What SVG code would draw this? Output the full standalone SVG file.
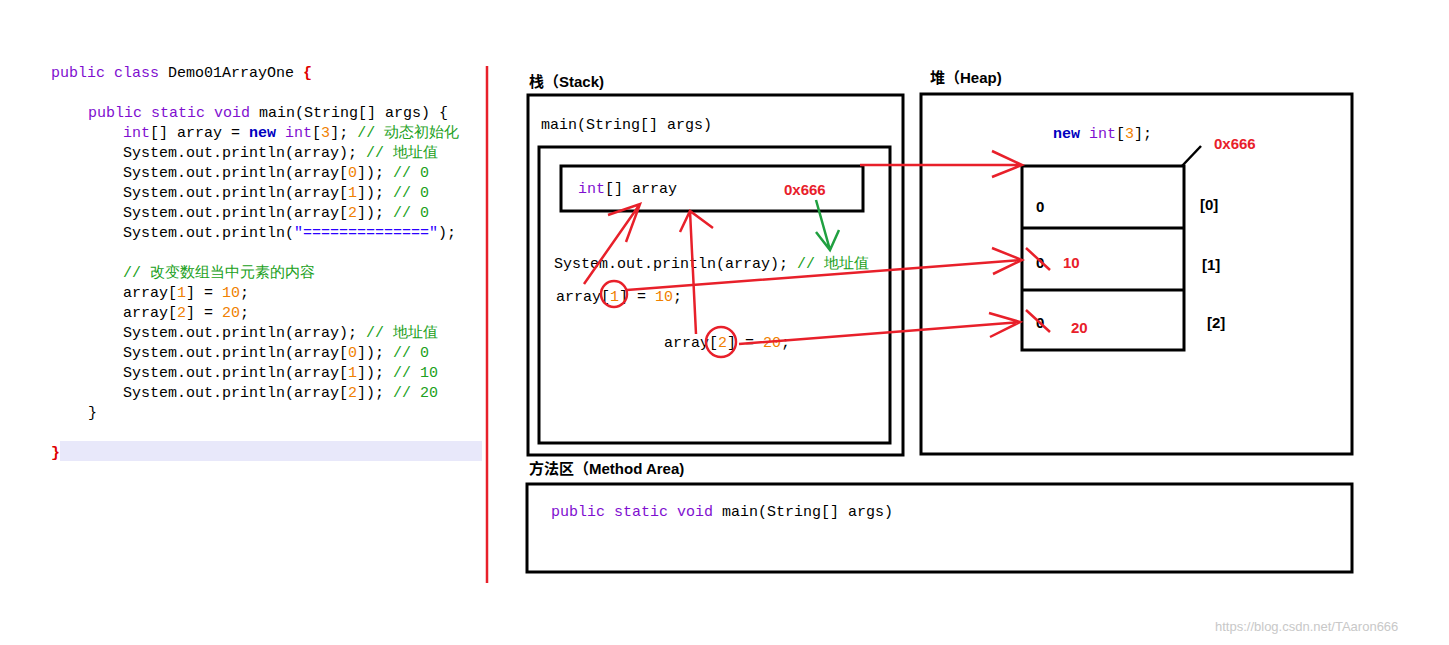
<svg xmlns="http://www.w3.org/2000/svg" width="1449" height="645" viewBox="0 0 1449 645">
<style>
.c{font-family:"Liberation Mono",monospace;font-size:15px;fill:#000}
.k{fill:#7f0fd0}.b{fill:#0000c0;font-weight:bold}.n{fill:#f08000}.g{fill:#20a020}.d{fill:#000080}
.t{font-family:"Liberation Sans","Noto Sans CJK SC",sans-serif;font-size:15px;font-weight:bold}
.r{stroke:#e8202a;stroke-width:2.5;fill:none}
.box{fill:none;stroke:#000;stroke-width:3}
</style>
<rect width="1449" height="645" fill="#fff"/>
<rect x="60" y="441" width="422" height="20" fill="#e8e8fa"/>
<line x1="487" y1="66" x2="487" y2="583" stroke="#e8202a" stroke-width="2.5"/>
<g id="code" class="c">
<text x="51" y="77"><tspan class="k">public class</tspan> Demo01ArrayOne <tspan fill="#e00000" font-weight="bold">{</tspan></text>
<text x="88" y="117"><tspan class="k">public static void</tspan> main(String[] args) {</text>
<text x="123" y="137"><tspan class="k">int</tspan>[] array = <tspan class="b">new</tspan> <tspan class="k">int</tspan>[<tspan class="n">3</tspan>]; <tspan class="g">// 动态初始化</tspan></text>
<text x="123" y="157">System.out.println(array); <tspan class="g">// 地址值</tspan></text>
<text x="123" y="177">System.out.println(array[<tspan class="n">0</tspan>]); <tspan class="g">// 0</tspan></text>
<text x="123" y="197">System.out.println(array[<tspan class="n">1</tspan>]); <tspan class="g">// 0</tspan></text>
<text x="123" y="217">System.out.println(array[<tspan class="n">2</tspan>]); <tspan class="g">// 0</tspan></text>
<text x="123" y="237">System.out.println(<tspan fill="#2a00ff">"=============="</tspan>);</text>
<text x="123" y="277" class="g">// 改变数组当中元素的内容</text>
<text x="123" y="297">array[<tspan class="n">1</tspan>] = <tspan class="n">10</tspan>;</text>
<text x="123" y="317">array[<tspan class="n">2</tspan>] = <tspan class="n">20</tspan>;</text>
<text x="123" y="337">System.out.println(array); <tspan class="g">// 地址值</tspan></text>
<text x="123" y="357">System.out.println(array[<tspan class="n">0</tspan>]); <tspan class="g">// 0</tspan></text>
<text x="123" y="377">System.out.println(array[<tspan class="n">1</tspan>]); <tspan class="g">// 10</tspan></text>
<text x="123" y="397">System.out.println(array[<tspan class="n">2</tspan>]); <tspan class="g">// 20</tspan></text>
<text x="88" y="417">}</text>
<text x="51" y="457" fill="#e00000" font-weight="bold">}</text>
</g>
<g id="stack">
<text x="529" y="87" class="t">栈（Stack)</text>
<rect x="528" y="95" width="375" height="360" class="box"/>
<text x="541" y="129" class="c">main(String[] args)</text>
<rect x="539" y="147" width="351" height="296" class="box"/>
<rect x="561" y="166" width="302" height="45" class="box"/>
<text x="578" y="193" class="c"><tspan class="k">int</tspan>[] array</text>
<text x="784" y="195" class="t" fill="#e8202a">0x666</text>
<text x="554" y="268" class="c">System.out.println(array); <tspan class="g">// 地址值</tspan></text>
<text x="556" y="301" class="c">array[<tspan class="n">1</tspan>] = <tspan class="n">10</tspan>;</text>
<text x="664" y="347" class="c">array[<tspan class="n">2</tspan>] = <tspan class="n">20</tspan>;</text>
</g>
<g id="heap">
<text x="930" y="83" class="t">堆（Heap)</text>
<rect x="921" y="94" width="431" height="360" class="box"/>
<text x="1053" y="138" class="c"><tspan class="b">new</tspan> <tspan class="k">int</tspan>[<tspan class="n">3</tspan>];</text>
<text x="1214" y="149" class="t" fill="#e8202a">0x666</text>
<line x1="1182" y1="166" x2="1201" y2="146" stroke="#000" stroke-width="2.5"/>
<rect x="1022" y="166" width="162" height="184" class="box"/>
<line x1="1022" y1="228" x2="1184" y2="228" stroke="#000" stroke-width="3"/>
<line x1="1022" y1="290" x2="1184" y2="290" stroke="#000" stroke-width="3"/>
<text x="1036" y="212" class="t">0</text>
<text x="1036" y="268" class="t">0</text>
<text x="1036" y="328" class="t">0</text>
<text x="1063" y="268" class="t" fill="#e8202a">10</text>
<text x="1071" y="333" class="t" fill="#e8202a">20</text>
<text x="1200" y="210" class="t">[0]</text>
<text x="1202" y="270" class="t">[1]</text>
<text x="1207" y="328" class="t">[2]</text>
</g>
<g id="method">
<text x="529" y="474" class="t">方法区（Method Area)</text>
<rect x="527" y="484" width="825" height="88" class="box"/>
<text x="551" y="516" class="c"><tspan class="k">public static void</tspan> main(String[] args)</text>
</g>
<g id="connectors">
<path class="r" d="M860 165 L1022 165 M992 151 L1022 165 L992 177"/>
<path class="r" d="M584 284 L640 204 M608 215 L640 204 L626 242"/>
<path class="r" d="M696 334 L690 211 M680 232 L690 211 L713 228"/>
<path class="r" d="M627 290 L1022 260 M992 248 L1022 260 L993 274"/>
<path class="r" d="M739 344 L1020 322 M989 313 L1020 322 L990 337"/>
<circle cx="614" cy="294" r="13" class="r"/>
<circle cx="721" cy="342" r="15" class="r"/>
<path class="r" d="M1026 248 L1050 270 M1026 310 L1050 332"/>
<path d="M816 200 L830 250 M816 232 L830 250 L839 230" stroke="#20a040" stroke-width="2.5" fill="none"/>
</g>
<text x="1215" y="631" font-family="Liberation Sans,sans-serif" font-size="13" fill="#c8c8c8">https://blog.csdn.net/TAaron666</text>
</svg>
